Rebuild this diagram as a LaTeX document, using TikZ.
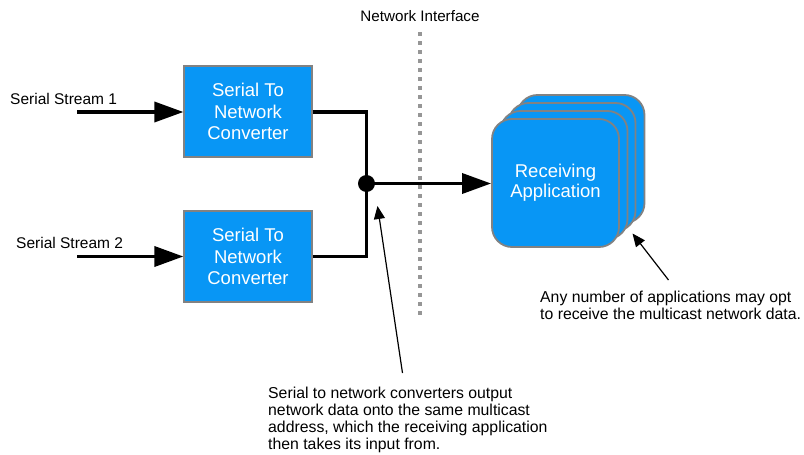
\documentclass[tikz,border=0pt]{standalone}
\usepackage{fontspec}
\setmainfont{Liberation Sans}
\usetikzlibrary{arrows.meta}
\definecolor{boxblue}{RGB}{8,150,245}
\definecolor{boxedge}{RGB}{130,130,130}
\definecolor{dotgray}{RGB}{150,150,150}
\tikzset{
  conv/.style={draw=boxedge, line width=1.2pt, fill=boxblue, minimum width=128pt, minimum height=91pt, inner sep=0pt, text=white, font=\fontsize{18.5}{21.5}\selectfont, align=center},
  app/.style={draw=boxedge, line width=1.8pt, fill=boxblue, rounded corners=20pt, minimum width=127pt, minimum height=128pt, inner sep=0pt, text=white, font=\fontsize{18.5}{20}\selectfont, align=center},
  flow/.style={line width=3.5pt, -{Triangle[length=29pt,width=20pt]}},
  wire/.style={line width=3.5pt},
  note/.style={line width=1.2pt, -{Triangle[length=13pt,width=11pt]}},
  lbl/.style={font=\fontsize{15.5}{19}\selectfont, inner sep=0pt},
  ann/.style={font=\fontsize{15.8}{17.3}\selectfont, inner sep=0pt, align=left, anchor=north west},
}
\begin{document}
\begin{tikzpicture}[x=1pt,y=-1pt]
\useasboundingbox (0,0) rectangle (804,455);
% converters
\node[conv] (c1) at (248,111.5) {Serial To\\Network\\Converter};
\node[conv] (c2) at (248,256.5) {Serial To\\Network\\Converter};
% inputs
\coordinate (s1) at (77,112);
\coordinate (s2) at (77,256.5);
\node[lbl, anchor=base west] (l1) at (10,104) {Serial Stream 1};
\node[lbl, anchor=base west] (l2) at (16,248) {Serial Stream 2};
\draw[flow] (s1) -- (c1.west |- s1);
\draw[flow] (s2) -- (c2.west |- s2);
% junction
\coordinate (j) at (366.5,183.5);
\draw[wire] (c1.east |- s1) -| (j);
\draw[wire] (c2.east |- s2) -| (j);
\fill (j) circle (8.5pt);
% network interface
\coordinate (ni1) at (419.5,32);
\coordinate (ni2) at (419.5,316);
\draw[dotgray, line width=4pt, dash pattern=on 4pt off 5pt] (ni1) -- (ni2);
\node[font=\fontsize{15.2}{17}\selectfont, inner sep=0pt, anchor=base] (nil) at (420,21.5) {Network Interface};
% applications stack
\node[app] (a4) at (581,159) {};
\node[app] (a3) at (572,167) {};
\node[app] (a2) at (564,175) {};
\node[app] (a1) at (555.5,183) {Receiving\\Application};
\draw[flow] (j) -- (a1.west |- j);
% annotations
\node[ann] (t1) at (268,386.4) {Serial to network converters output\\network data onto the same multicast\\address, which the receiving application\\then takes its input from.};
\coordinate (t1a) at (402.5,373);
\coordinate (t1b) at (377.5,206);
\draw[note] (t1a) -- (t1b);
\node[ann] (t2) at (540,291) {Any number of applications may opt\\to receive the multicast network data.};
\coordinate (t2a) at (668.5,280);
\coordinate (t2b) at (632.5,233.5);
\draw[note] (t2a) -- (t2b);
\end{tikzpicture}
\end{document}
